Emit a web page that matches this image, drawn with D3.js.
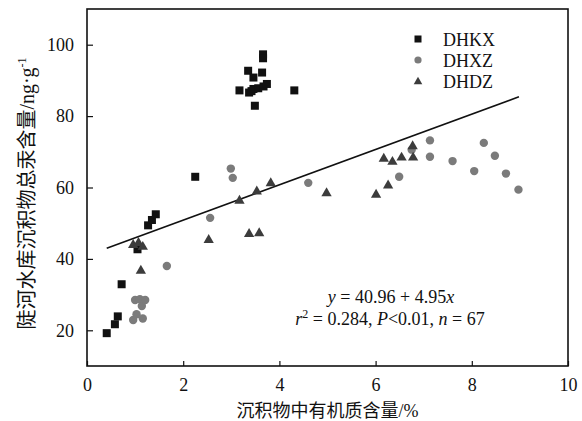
<!DOCTYPE html>
<html lang="zh">
<head>
<meta charset="UTF-8">
<title>陡河水库沉积物总汞含量</title>
<script src="https://cdn.jsdelivr.net/npm/d3@7"></script>
<style>
  body { margin: 0; background: #fff; }
  text { font-family: "Liberation Serif", "Noto Sans CJK SC", serif; fill: #111; }
</style>
</head>
<body>
<div id="chart"></div>
<script>
// sediment organic matter (%) vs total Hg (ng/g)
const dhkx = [
  [0.41, 19.2], [0.58, 21.7], [0.64, 23.9], [0.72, 32.9], [1.05, 42.7], [1.27, 49.4],
  [1.35, 50.9], [1.43, 52.5], [2.25, 63.0], [3.17, 87.2], [3.35, 92.7], [3.37, 86.6],
  [3.42, 87.0], [3.46, 87.6], [3.46, 90.8], [3.49, 82.9], [3.56, 87.8], [3.64, 92.2],
  [3.66, 97.3], [3.66, 96.2], [3.67, 88.3], [3.74, 89.0], [4.31, 87.2]
];
const dhxz = [
  [0.96, 22.9], [1.00, 28.5], [1.03, 24.5], [1.10, 28.7], [1.14, 26.8], [1.16, 23.3],
  [1.21, 28.5], [1.66, 38.0], [2.56, 51.5], [2.99, 65.3], [3.03, 62.7], [4.60, 61.3],
  [6.49, 63.0], [6.75, 70.6], [7.13, 73.2], [7.13, 68.6], [7.60, 67.4], [8.05, 64.6],
  [8.25, 72.5], [8.48, 68.9], [8.71, 63.9], [8.97, 59.4]
];
const dhdz = [
  [0.96, 44.1], [1.07, 44.7], [1.16, 43.6], [1.12, 36.9], [2.53, 45.5], [3.17, 56.5],
  [3.37, 47.2], [3.53, 59.1], [3.58, 47.4], [3.82, 61.4], [4.98, 58.6], [6.01, 58.2],
  [6.17, 68.3], [6.26, 60.8], [6.35, 67.4], [6.54, 68.6], [6.77, 71.8], [6.78, 68.6]
];
const seriesNames = ["DHKX", "DHXZ", "DHDZ"];
const xTicks = [0, 2, 4, 6, 8, 10];
const yTicks = [20, 40, 60, 80, 100];
// fitted line y = 40.96 + 4.95x, drawn over the sampled range
const fitIntercept = 40.96, fitSlope = 4.95;
const fitRange = [0.41, 8.98];

const width = 582, height = 421;
const margin = { top: 9, right: 14, bottom: 55, left: 87 };

const svg = d3.select("#chart").append("svg")
    .attr("width", width)
    .attr("height", height);

const x = d3.scaleLinear().domain([0, 10]).range([margin.left, width - margin.right]);
const y = d3.scaleLinear().domain([10, 110]).range([height - margin.bottom, margin.top]);

// inward ticks
svg.append("g")
    .attr("transform", `translate(0, ${height - margin.bottom})`)
    .call(d3.axisBottom(x).tickValues(xTicks).tickSizeInner(-5).tickSizeOuter(0).tickPadding(12))
    .call(g => g.select(".domain").remove())
    .call(g => g.selectAll("line").attr("stroke", "#111").attr("stroke-width", 1.2))
    .call(g => g.selectAll("text").attr("font-size", 18).attr("font-family", "Liberation Serif"));

svg.append("g")
    .attr("transform", `translate(${margin.left}, 0)`)
    .call(d3.axisLeft(y).tickValues(yTicks).tickSizeInner(-6).tickSizeOuter(0).tickPadding(13))
    .call(g => g.select(".domain").remove())
    .call(g => g.selectAll("line").attr("stroke", "#111").attr("stroke-width", 1.2))
    .call(g => g.selectAll("text").attr("font-size", 18).attr("font-family", "Liberation Serif"));

// frame
svg.append("rect")
    .attr("x", x(0)).attr("y", y(110))
    .attr("width", x(10) - x(0)).attr("height", y(10) - y(110))
    .attr("fill", "none").attr("stroke", "#111").attr("stroke-width", 1.6);

// regression line
svg.append("line")
    .attr("x1", x(fitRange[0])).attr("y1", y(fitIntercept + fitSlope * fitRange[0]))
    .attr("x2", x(fitRange[1])).attr("y2", y(fitIntercept + fitSlope * fitRange[1]))
    .attr("stroke", "#111").attr("stroke-width", 1.6);

const triSym = d3.symbol().type(d3.symbolTriangle);

svg.append("g").selectAll("circle")
    .data(dhxz).enter().append("circle")
    .attr("cx", d => x(d[0])).attr("cy", d => y(d[1]))
    .attr("r", 4.2).attr("fill", "#7b7b7b");

svg.append("g").selectAll("rect")
    .data(dhkx).enter().append("rect")
    .attr("x", d => x(d[0]) - 4).attr("y", d => y(d[1]) - 4)
    .attr("width", 8).attr("height", 8).attr("fill", "#111");

svg.append("g").selectAll("path")
    .data(dhdz).enter().append("path")
    .attr("d", triSym.size(46))
    .attr("transform", d => `translate(${x(d[0])},${y(d[1]) + 0.8})`)
    .attr("fill", "#3c3c3c");

// legend
const legend = svg.append("g").attr("transform", "translate(418, 39)");
seriesNames.forEach((name, i) => {
    const g = legend.append("g").attr("transform", `translate(0, ${i * 21})`);
    if (i === 0) g.append("rect").attr("x", -3.5).attr("y", -3.5).attr("width", 7).attr("height", 7).attr("fill", "#111");
    if (i === 1) g.append("circle").attr("r", 3.6).attr("fill", "#7b7b7b");
    if (i === 2) g.append("path").attr("d", d3.symbol().type(d3.symbolTriangle).size(32)()).attr("transform", "translate(0,0.8)").attr("fill", "#3c3c3c");
    g.append("text").attr("x", 25).attr("y", 6.5).attr("font-size", 18).text(name);
});

// equation
const eq1 = svg.append("text").attr("x", 391).attr("y", 303).attr("text-anchor", "middle").attr("font-size", 18);
eq1.append("tspan").attr("font-style", "italic").text("y");
eq1.append("tspan").text(" = 40.96 + 4.95");
eq1.append("tspan").attr("font-style", "italic").text("x");

const eq2 = svg.append("text").attr("x", 390).attr("y", 325).attr("text-anchor", "middle").attr("font-size", 18);
eq2.append("tspan").attr("font-style", "italic").text("r");
eq2.append("tspan").attr("font-size", 12).attr("dy", -7).text("2");
eq2.append("tspan").attr("dy", 7).text(" = 0.284, ");
eq2.append("tspan").attr("font-style", "italic").text("P");
eq2.append("tspan").text("<0.01, ");
eq2.append("tspan").attr("font-style", "italic").text("n");
eq2.append("tspan").text(" = 67");

// axis titles
svg.append("text")
    .attr("x", (x(0) + x(10)) / 2).attr("y", 417)
    .attr("text-anchor", "middle").attr("font-size", 18)
    .text("沉积物中有机质含量/%");

const yTitle = svg.append("text")
    .attr("transform", `translate(34, ${(y(10) + y(110)) / 2 + 6}) rotate(-90)`)
    .attr("text-anchor", "middle").attr("font-size", 20);
yTitle.append("tspan").text("陡河水库沉积物总汞含量/ng·g");
yTitle.append("tspan").attr("font-size", 12).attr("dy", -8).text("-1");
</script>
</body>
</html>
